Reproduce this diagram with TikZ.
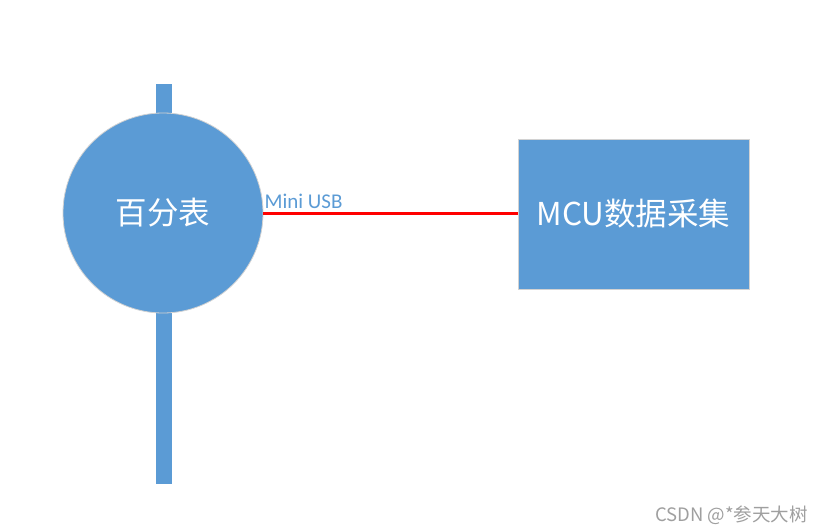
\documentclass[tikz,border=0pt]{standalone}
\usepackage{fontspec}
\setmainfont{Noto Sans CJK SC}
\newfontfamily\calibri{Carlito}
\definecolor{azul}{HTML}{5B9BD5}
\begin{document}
\begin{tikzpicture}[x=1pt,y=-1pt]
		
		% Estilos
		\tikzset{
			bloque/.style={
				fill=azul,
				draw=gray!35,
				line width=0.8pt,
				inner sep=0pt,
				text=white,
				font=\fontsize{31.5}{36}\selectfont
			},
			varilla/.style={fill=azul}
		}
		
		\useasboundingbox (0,0) rectangle (824,532);
		
		% Varillas
		\fill[varilla] (156,84) rectangle (172,125);
		\fill[varilla] (156,300) rectangle (172,484);
		
		% Nodos
		\node[bloque,circle,minimum size=200pt] (Dial) at (163,213) {百分表};
		\node[bloque,rectangle,minimum width=231pt,minimum height=150pt] (MCU) at (633.5,214) {MCU数据采集};
		
		% Cable
		\draw[red,line width=3pt] (Dial.east) -- (Dial.east -| MCU.west);
		\node[anchor=south west,inner xsep=1pt,inner ysep=4pt,text=azul,font=\calibri\fontsize{21}{24}\selectfont] (Usb) at (Dial.east) {Mini USB};
		
		% Marca
		\node[anchor=base east,inner sep=0pt,text=gray!75,font=\fontsize{18.5}{20}\selectfont] (Marca) at (808,521) {CSDN @*参天大树};
		
	\end{tikzpicture}
\end{document}
